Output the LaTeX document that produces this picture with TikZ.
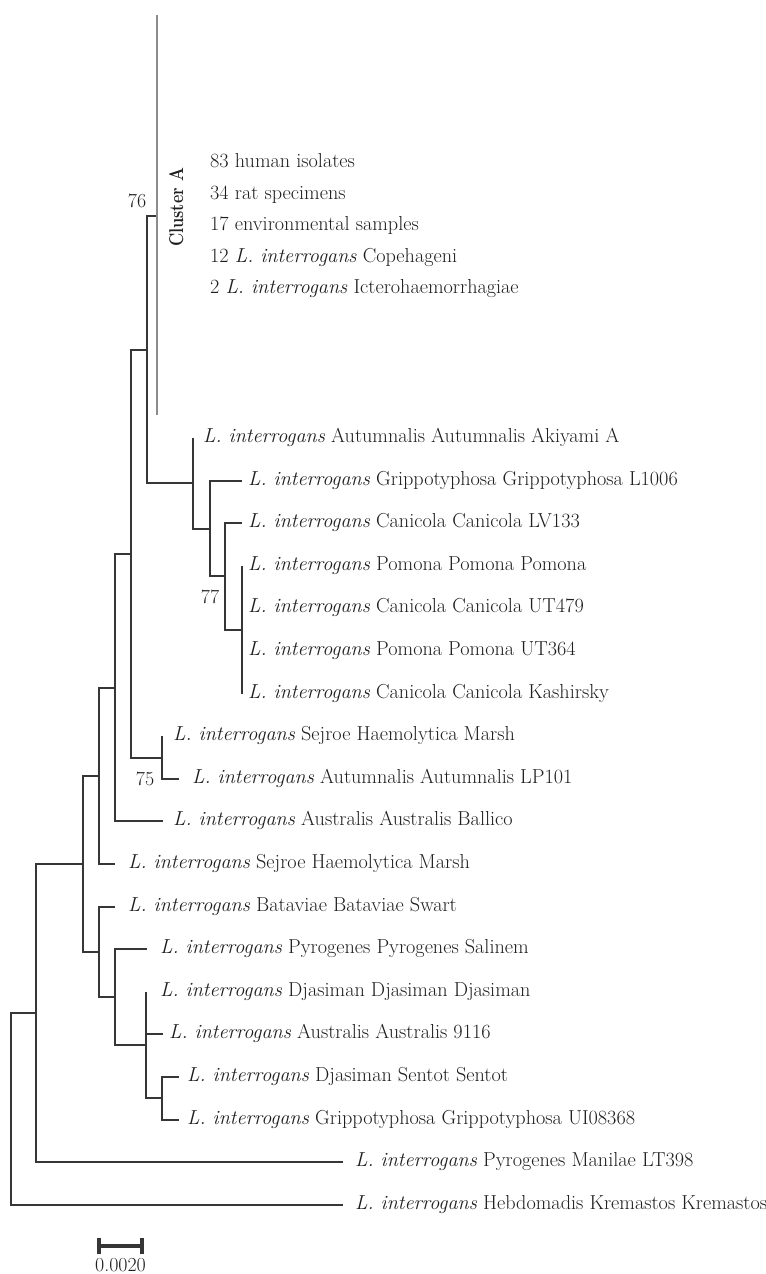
\documentclass[tikz,border=0pt]{standalone}
\definecolor{branch}{HTML}{363636}
\definecolor{clgray}{HTML}{8C8C8C}
\definecolor{txt}{HTML}{1E1E1E}
\begin{document}
\begin{tikzpicture}[x=1bp,y=-1bp,
  br/.style={draw=branch, line width=2bp, line join=miter},
  cl/.style={draw=clgray, line width=1.7bp},
  lab/.style={anchor=base west, inner sep=0pt, yshift=-4.5bp, text=txt, font=\fontsize{20.3}{24}\selectfont},
  boot/.style={anchor=base, inner sep=0pt, text=txt, font=\fontsize{20}{24}\selectfont},
  sbar/.style={draw=branch, line width=3.6bp}]
\useasboundingbox (0,0) rectangle (766,1274);
% internal nodes
\coordinate (R) at (11,1108.9);
\coordinate (N36) at (36,1013);
\coordinate (N83) at (83,863.8);
\coordinate (N99) at (99,775.7);
\coordinate (N115) at (115,687.5);
\coordinate (N131) at (131,553.6);
\coordinate (N147) at (147,349.6);
\coordinate (CA) at (157,216);
\coordinate (CAtop) at (157,15);
\coordinate (CAbot) at (157,415);
\coordinate (N193) at (193,483.3);
\coordinate (N210) at (210,528.5);
\coordinate (N225) at (225,576.45);
\coordinate (N242) at (242,629.7);
\coordinate (N162) at (162,757.5);
\coordinate (N99b) at (99,951.9);
\coordinate (N115b) at (115,997.1);
\coordinate (N146) at (146,1045);
\coordinate (N162b) at (162,1098.3);
% leaves
\coordinate (L0) at (193,438);
\coordinate (L1) at (242,480.6);
\coordinate (L2) at (242,523.2);
\coordinate (L3) at (242,565.8);
\coordinate (L4) at (242,608.4);
\coordinate (L5) at (242,651);
\coordinate (L6) at (242,693.6);
\coordinate (L7) at (162,736.2);
\coordinate (L8) at (179,778.8);
\coordinate (L9) at (163,821.4);
\coordinate (L10) at (115,864);
\coordinate (L11) at (115,906.6);
\coordinate (L12) at (147,949.2);
\coordinate (L13) at (146,991.8);
\coordinate (L14) at (163,1034.4);
\coordinate (L15) at (179,1077);
\coordinate (L16) at (179,1119.6);
\coordinate (L17) at (343,1162.2);
\coordinate (L18) at (343,1204.8);
% branches
\draw[br] (R) |- (N36);
\draw[br] (R) |- (L18);
\draw[br] (N36) |- (N83);
\draw[br] (N36) |- (L17);
\draw[br] (N83) |- (N99);
\draw[br] (N83) |- (N99b);
\draw[br] (N99) |- (N115);
\draw[br] (N99) |- (L10);
\draw[br] (N115) |- (N131);
\draw[br] (N115) |- (L9);
\draw[br] (N131) |- (N147);
\draw[br] (N131) |- (N162);
\draw[br] (N147) |- (CA);
\draw[br] (N147) |- (N193);
\draw[br] (N193) |- (L0);
\draw[br] (N193) |- (N210);
\draw[br] (N210) |- (L1);
\draw[br] (N210) |- (N225);
\draw[br] (N225) |- (L2);
\draw[br] (N225) |- (N242);
\draw[br] (N242) |- (L3);
\draw[br] (N242) |- (L6);
\draw[br] (N162) |- (L7);
\draw[br] (N162) |- (L8);
\draw[br] (N99b) |- (L11);
\draw[br] (N99b) |- (N115b);
\draw[br] (N115b) |- (L12);
\draw[br] (N115b) |- (N146);
\draw[br] (N146) |- (L13);
\draw[br] (N146) |- (L14);
\draw[br] (N146) |- (N162b);
\draw[br] (N162b) |- (L15);
\draw[br] (N162b) |- (L16);
\draw[cl] (CAtop) -- (CAbot);
% cluster A
\node[rotate=90, anchor=base, inner sep=0pt, text=txt, font=\fontsize{20}{24}\selectfont\bfseries] (clA) at (183,207.5) {\scalebox{0.82}[1]{Cluster A}};
\node[lab] (c1) at (210,163) {83 human isolates};
\node[lab] (c2) at (210,194.5) {34 rat specimens};
\node[lab] (c3) at (210,226) {17 environmental samples};
\node[lab] (c4) at (210,257.5) {12 \textit{L. interrogans} Copehageni};
\node[lab] (c5) at (210,289) {2 \textit{L. interrogans} Icterohaemorrhagiae};
% leaf labels
\node[lab] (t0) at (203,438) {\textit{L. interrogans} Autumnalis Autumnalis Akiyami A};
\node[lab] (t1) at (248,480.6) {\textit{L. interrogans} Grippotyphosa Grippotyphosa L1006};
\node[lab] (t2) at (248,523.2) {\textit{L. interrogans} Canicola Canicola LV133};
\node[lab] (t3) at (248,565.8) {\textit{L. interrogans} Pomona Pomona Pomona};
\node[lab] (t4) at (248,608.4) {\textit{L. interrogans} Canicola Canicola UT479};
\node[lab] (t5) at (248,651) {\textit{L. interrogans} Pomona Pomona UT364};
\node[lab] (t6) at (248,693.6) {\textit{L. interrogans} Canicola Canicola Kashirsky};
\node[lab] (t7) at (173,736.2) {\textit{L. interrogans} Sejroe Haemolytica Marsh};
\node[lab] (t8) at (192,778.8) {\textit{L. interrogans} Autumnalis Autumnalis LP101};
\node[lab] (t9) at (173,821.4) {\textit{L. interrogans} Australis Australis Ballico};
\node[lab] (t10) at (128,864) {\textit{L. interrogans} Sejroe Haemolytica Marsh};
\node[lab] (t11) at (128,906.6) {\textit{L. interrogans} Bataviae Bataviae Swart};
\node[lab] (t12) at (160,949.2) {\textit{L. interrogans} Pyrogenes Pyrogenes Salinem};
\node[lab] (t13) at (160,991.8) {\textit{L. interrogans} Djasiman Djasiman Djasiman};
\node[lab] (t14) at (169,1034.4) {\textit{L. interrogans} Australis Australis 9116};
\node[lab] (t15) at (187,1077) {\textit{L. interrogans} Djasiman Sentot Sentot};
\node[lab] (t16) at (187,1119.6) {\textit{L. interrogans} Grippotyphosa Grippotyphosa UI08368};
\node[lab] (t17) at (355,1162.2) {\textit{L. interrogans} Pyrogenes Manilae LT398};
\node[lab] (t18) at (355,1204.8) {\textit{L. interrogans} Hebdomadis Kremastos Kremastos};
% bootstrap values
\node[boot] (b76) at (137,207) {76};
\node[boot] (b77) at (210,603) {77};
\node[boot] (b75) at (145,785) {75};
% scale bar
\coordinate (s1) at (99,1246);
\coordinate (s2) at (142,1246);
\draw[sbar] (s1) -- (s2);
\draw[sbar] ([yshift=8bp]s1) -- ([yshift=-8bp]s1);
\draw[sbar] ([yshift=8bp]s2) -- ([yshift=-8bp]s2);
\node[boot] (sl) at (120.5,1271.5) {0.0020};
\end{tikzpicture}
\end{document}
